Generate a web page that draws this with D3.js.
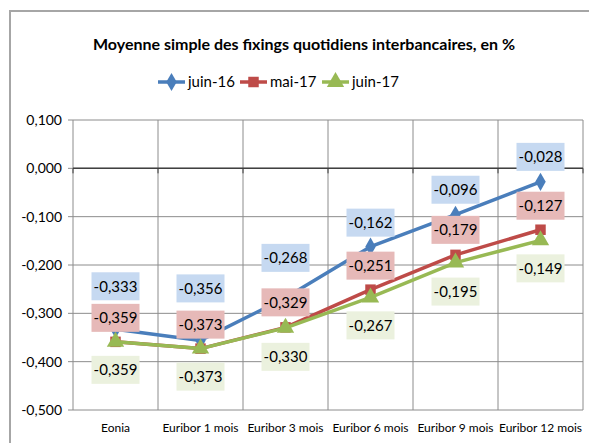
<!DOCTYPE html>
<html>
<head>
<meta charset="utf-8">
<script src="https://cdn.jsdelivr.net/npm/d3@7"></script>
<style>
  html, body { margin: 0; padding: 0; background: #fff; }
  svg { display: block; }
  text { font-family: Lato, "DejaVu Sans Condensed", sans-serif; fill: #000; }
</style>
</head>
<body>
<div id="chart"></div>
<script>
(function() {
    'use strict';

    var width = 589, height = 443;

    // data
    var categories = ['Eonia', 'Euribor 1 mois', 'Euribor 3 mois', 'Euribor 6 mois', 'Euribor 9 mois', 'Euribor 12 mois'];
    var seriesNames = ['juin-16', 'mai-17', 'juin-17'];
    var juin16 = [-0.333, -0.356, -0.268, -0.162, -0.096, -0.028];
    var mai17 = [-0.359, -0.373, -0.329, -0.251, -0.179, -0.127];
    var juin17 = [-0.359, -0.373, -0.330, -0.267, -0.195, -0.149];
    var yTicks = [0.1, 0, -0.1, -0.2, -0.3, -0.4, -0.5];

    // label offsets (px from point), hand placed like the original
    var labelDy = [
        [-43, -52, -40, -24, -25, -25],
        [-24, -24, -25, -24, -25, -24],
        [28, 28, 29, 28, 29, 28]
    ];

    var colors = ['#4a7ebb', '#be4b48', '#98b954'];
    var boxFill = ['#c6d9f1', '#e6b9b8', '#ebf1de'];
    var markers = [d3.symbolDiamond, d3.symbolSquare, d3.symbolTriangle];
    var markerSize = [95, 110, 130];

    var series = [juin16, mai17, juin17];

    var svg = d3.select('#chart').append('svg')
        .attr('width', width)
        .attr('height', height);

    // outer chart border
    svg.append('rect')
        .attr('x', 10).attr('y', 11)
        .attr('width', width + 20).attr('height', height + 20)
        .attr('fill', 'none')
        .attr('stroke', '#a6a6a6')
        .attr('stroke-width', 2);

    var left = 73, right = 583, top = 120, bottom = 410;

    var x = d3.scaleBand().domain(categories).range([left, right]);
    var y = d3.scaleLinear().domain([-0.5, 0.1]).range([bottom, top]);
    var fmt = function(v) { return d3.format('.3f')(v).replace('.', ',').replace('−', '-'); };

    // horizontal grid
    svg.append('g').selectAll('line')
        .data(yTicks)
        .join('line')
        .attr('x1', left - 5).attr('x2', right)
        .attr('y1', function(d) { return y(d); })
        .attr('y2', function(d) { return y(d); })
        .attr('stroke', '#8c8c8c')
        .attr('stroke-width', 1);

    // vertical grid
    var bounds = categories.map(function(c) { return x(c); }).concat([right]);
    svg.append('g').selectAll('line')
        .data(bounds)
        .join('line')
        .attr('x1', function(d) { return d; }).attr('x2', function(d) { return d; })
        .attr('y1', top).attr('y2', bottom)
        .attr('stroke', '#8c8c8c')
        .attr('stroke-width', 1);

    // category axis at zero
    svg.append('line')
        .attr('x1', left).attr('x2', right)
        .attr('y1', y(0)).attr('y2', y(0))
        .attr('stroke', '#404040')
        .attr('stroke-width', 1.5);
    svg.append('g').selectAll('line')
        .data(bounds)
        .join('line')
        .attr('x1', function(d) { return d; }).attr('x2', function(d) { return d; })
        .attr('y1', y(0)).attr('y2', y(0) + 5)
        .attr('stroke', '#404040');

    // y labels
    svg.append('g').selectAll('text')
        .data(yTicks)
        .join('text')
        .attr('x', 62)
        .attr('y', function(d) { return y(d); })
        .attr('dy', '0.35em')
        .attr('text-anchor', 'end')
        .style('font-size', '14px')
        .text(fmt);

    // x labels
    svg.append('g').selectAll('text')
        .data(categories)
        .join('text')
        .attr('x', function(d) { return x(d) + x.bandwidth() / 2; })
        .attr('y', 432)
        .attr('text-anchor', 'middle')
        .style('font-size', '12px')
        .text(function(d) { return d; });

    var line = d3.line()
        .x(function(d, i) { return x(categories[i]) + x.bandwidth() / 2; })
        .y(function(d) { return y(d); });

    series.forEach(function(s, k) {
        var g = svg.append('g');
        g.append('path')
            .datum(s)
            .attr('d', line)
            .attr('fill', 'none')
            .attr('stroke', colors[k])
            .attr('stroke-width', 3.5)
            .attr('stroke-linejoin', 'round');
        g.selectAll('path.m')
            .data(s)
            .join('path')
            .attr('class', 'm')
            .attr('d', d3.symbol().type(markers[k]).size(markerSize[k]))
            .attr('transform', function(d, i) {
                return 'translate(' + (x(categories[i]) + x.bandwidth() / 2) + ',' + y(d) + ')';
            })
            .attr('fill', colors[k]);
    });

    // data labels
    series.forEach(function(s, k) {
        var g = svg.append('g');
        var lab = g.selectAll('g')
            .data(s)
            .join('g')
            .attr('transform', function(d, i) {
                return 'translate(' + (x(categories[i]) + x.bandwidth() / 2) + ',' + (y(d) + labelDy[k][i]) + ')';
            });
        lab.append('rect')
            .attr('x', -24).attr('y', -14)
            .attr('width', 48).attr('height', 28)
            .attr('fill', boxFill[k]);
        lab.append('text')
            .attr('text-anchor', 'middle')
            .attr('dy', '0.35em')
            .style('font-size', '15px')
            .text(fmt);
    });

    // title
    svg.append('text')
        .attr('x', 304).attr('y', 50)
        .attr('text-anchor', 'middle')
        .style('font-size', '16px')
        .style('font-weight', 'bold')
        .text('Moyenne simple des fixings quotidiens interbancaires, en %');

    // legend
    var legX = [158, 240, 322];
    var leg = svg.append('g').selectAll('g')
        .data(seriesNames)
        .join('g')
        .attr('transform', function(d, i) { return 'translate(' + legX[i] + ',82)'; });
    leg.append('line')
        .attr('x1', 0).attr('x2', 27)
        .attr('stroke', function(d, i) { return colors[i]; })
        .attr('stroke-width', 3.5);
    leg.append('path')
        .attr('d', function(d, i) { return d3.symbol().type(markers[i]).size(markerSize[i])(); })
        .attr('transform', 'translate(13.5,0)')
        .attr('fill', function(d, i) { return colors[i]; });
    leg.append('text')
        .attr('x', 30)
        .attr('dy', '0.35em')
        .style('font-size', '15px')
        .text(function(d) { return d; });
})();
</script>
</body>
</html>
